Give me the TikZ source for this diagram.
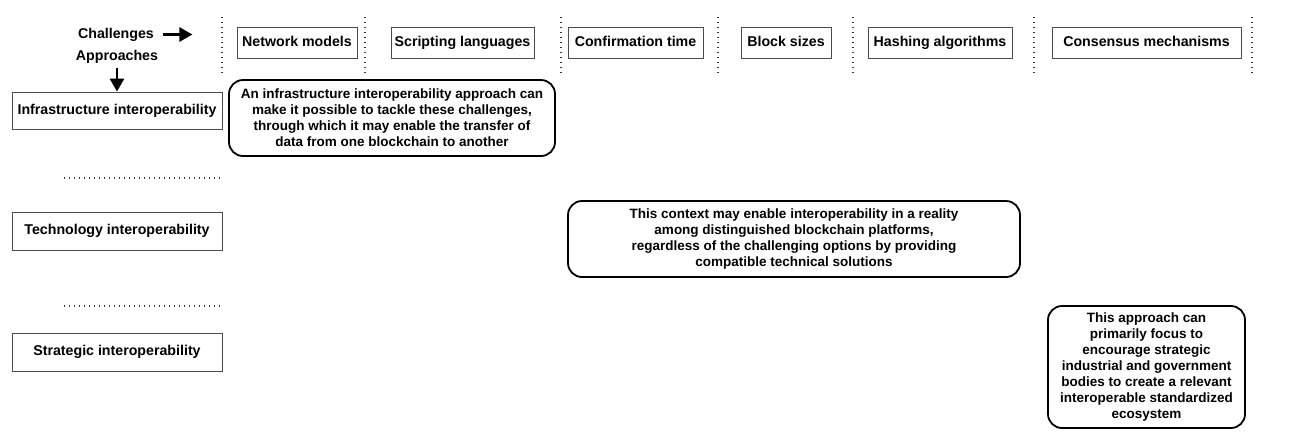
\documentclass[tikz,border=0pt]{standalone}
\usepackage{fontspec}
\setmainfont{Liberation Sans}
\usetikzlibrary{positioning, calc, arrows.meta}
\tikzset{challenge/.style={draw=black!70, line width=0.9pt, minimum height=31pt, inner sep=0pt, text height=10.5pt, text depth=3pt, font=\bfseries\fontsize{14.2}{16}\selectfont}}
\tikzset{approach/.style={draw=black!70, line width=0.9pt, minimum width=210pt, minimum height=37pt, inner sep=0pt, text height=10.5pt, text depth=3pt, font=\bfseries\fontsize{14.2}{16}\selectfont}}
\tikzset{note/.style={draw, line width=1.8pt, rounded corners=14pt, align=center, inner sep=0pt, font=\bfseries\fontsize{13.5}{16}\selectfont}}
\tikzset{sep/.style={black!80, line width=1.4pt, dash pattern=on 1.4pt off 3.6pt}}
\tikzset{bigarrow/.style={-{Triangle[length=13pt, width=14pt]}, line width=2.8pt}}

\begin{document}
\begin{tikzpicture}[x=1pt, y=-1pt]
      \useasboundingbox (0,0) rectangle (1298,440);

      % headings
      \node[font=\bfseries\fontsize{14.2}{16}\selectfont, text height=10.5pt, text depth=3pt] (chal) at (116,34.5) {Challenges};
      \node[font=\bfseries\fontsize{14.2}{16}\selectfont, text height=10.5pt, text depth=3pt] (appr) at (117,57) {Approaches};
      \coordinate[right=35pt of chal.east] (chalend);

      % challenges
      \node[challenge, minimum width=120pt] (net) at (297,42.5) {Network models};
      \node[challenge, minimum width=143pt] (script) at (462.5,42.5) {Scripting languages};
      \node[challenge, minimum width=135pt] (confirm) at (635.5,42.5) {Confirmation time};
      \node[challenge, minimum width=90pt] (block) at (786,42.5) {Block sizes};
      \node[challenge, minimum width=144pt] (hash) at (940,42.5) {Hashing algorithms};
      \node[challenge, minimum width=189pt] (consensus) at (1146.5,42.5) {Consensus mechanisms};

      \foreach \x in {222,365,561,718,853,1034,1252}
        \draw[sep] (\x,17) -- (\x,73);

      % approaches
      \node[approach] (infra) at (117,110.5) {Infrastructure interoperability};
      \node[approach, minimum height=38pt] (tech) at (117,231) {Technology interoperability};
      \node[approach, minimum height=38pt] (strat) at (117,352) {Strategic interoperability};

      \draw[sep] (64,178) -- (222,178);
      \draw[sep] (64,306) -- (222,306);

      \draw[bigarrow] ([xshift=6pt]chal.east) -- (chalend);
      \draw[bigarrow] ([yshift=-1pt]appr.south) -- (infra.north);

      % notes
      \node[note, minimum width=326pt, minimum height=76pt] (infranote) at (392,118)
        {An infrastructure interoperability approach can\\make it possible to tackle these challenges,\\through which it may enable the transfer of\\data from one blockchain to another};
      \node[note, minimum width=452pt, minimum height=76pt] (technote) at (794,239)
        {This context may enable interoperability in a reality\\among distinguished blockchain platforms,\\regardless of the challenging options by providing\\compatible technical solutions};
      \node[note, minimum width=197pt, minimum height=122pt] (stratnote) at (1146.5,367)
        {This approach can\\primarily focus to\\encourage strategic\\industrial and government\\bodies to create a relevant\\interoperable standardized\\ecosystem};

    \end{tikzpicture}
\end{document}
